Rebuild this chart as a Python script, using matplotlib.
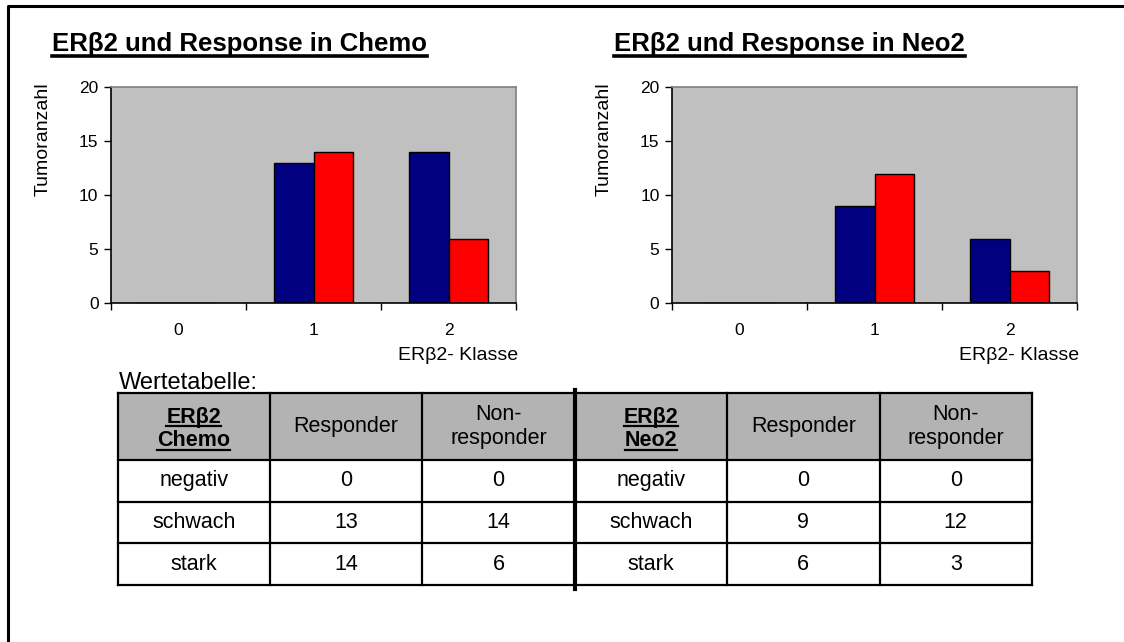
import numpy as np
import matplotlib
matplotlib.use("Agg")
import matplotlib.pyplot as plt
from matplotlib.patches import Rectangle
from matplotlib.lines import Line2D

plt.rcParams['font.family'] = ['Liberation Sans', 'DejaVu Sans']

W, H = 1124, 642

# Daten
klassen = ['0', '1', '2']
chemo_responder = [0, 13, 14]
chemo_non = [0, 14, 6]
neo2_responder = [0, 9, 6]
neo2_non = [0, 12, 3]

titel = ['ERβ2 und Response in Chemo', 'ERβ2 und Response in Neo2']
gruppen = ['Chemo', 'Neo2']
zeilen = ['negativ', 'schwach', 'stark']
kopf = ['Responder', 'Non-\nresponder']

fig = plt.figure(figsize=(W / 100, H / 100), dpi=100)

def px_rect(x0, y0, x1, y1):
    return [x0 / W, 1 - y1 / H, (x1 - x0) / W, (y1 - y0) / H]

# Ebene in Pixelkoordinaten fuer Rahmen, Titel und Tabelle
over = fig.add_axes([0, 0, 1, 1])
over.set_xlim(0, W)
over.set_ylim(H, 0)
over.axis('off')

# Rahmen (nur links und oben sichtbar)
over.add_line(Line2D([7.5, 7.5, W + 5], [H + 5, 6, 6], color='black', lw=2.2))

unterstrichen = []

def balken(rect, resp, non, t, tx):
    ax = fig.add_axes(px_rect(*rect))
    x = np.arange(len(klassen))
    bw = 0.29
    ax.bar(x - bw / 2, resp, bw, color='#000080', edgecolor='black', lw=1)
    ax.bar(x + bw / 2, non, bw, color='#ff0000', edgecolor='black', lw=1)
    ax.set_xlim(-0.5, 2.5)
    ax.set_ylim(0, 20)
    ax.set_facecolor('#c0c0c0')
    ax.set_yticks([0, 5, 10, 15, 20])
    ax.set_xticks(x)
    ax.set_xticklabels(klassen)
    ax.set_xticks([-0.5, 0.5, 1.5, 2.5], minor=True)
    ax.tick_params(axis='x', which='major', length=0, pad=14, labelsize=12.5)
    ax.tick_params(axis='x', which='minor', length=5, width=1, direction='out')
    ax.tick_params(axis='y', length=5, width=1, direction='out', pad=4, labelsize=12.5)
    for s in ['top', 'right']:
        ax.spines[s].set_color('#808080')
        ax.spines[s].set_linewidth(1.2)
    for s in ['left', 'bottom']:
        ax.spines[s].set_linewidth(1.2)
    ax.text(1.005, -(356 - 303.3) / 216, 'ERβ2- Klasse', transform=ax.transAxes,
            ha='right', va='center', fontsize=14)
    over.text(rect[0] - 68, 82, 'Tumoranzahl', rotation=90, ha='center', va='top', fontsize=14)
    tt = over.text(tx, 50.5, t, ha='left', va='baseline', fontsize=18.5, fontweight='bold')
    unterstrichen.append((tt, 5, 2.6))
    return ax

balken((111, 87.3, 516, 303.3), chemo_responder, chemo_non, titel[0], 52)
balken((672, 87.3, 1077, 303.3), neo2_responder, neo2_non, titel[1], 614)

over.text(119, 389, 'Wertetabelle:', ha='left', va='baseline', fontsize=17)

# Tabelle
xs = np.linspace(117.5, 1032, 7)
ys = [393, 460, 501.7, 543.3, 585]
spalten = [zeilen, chemo_responder, chemo_non, zeilen, neo2_responder, neo2_non]

for c in range(6):
    over.add_patch(Rectangle((xs[c], ys[0]), xs[c + 1] - xs[c], ys[1] - ys[0],
                             facecolor='#b3b3b3', edgecolor='none'))
for y in ys:
    over.add_line(Line2D([xs[0], xs[-1]], [y, y], color='black', lw=1.6))
for i, x in enumerate(xs):
    if i == 3:
        over.add_line(Line2D([x, x], [390, 589], color='black', lw=3))
    else:
        over.add_line(Line2D([x, x], [ys[0], ys[-1]], color='black', lw=1.6))

kopf_mitte = (ys[0] + ys[1]) / 2
for g in range(2):
    cx0 = (xs[3 * g] + xs[3 * g + 1]) / 2
    for k, wort in enumerate(['ERβ2', gruppen[g]]):
        tt = over.text(cx0, kopf_mitte - 4 + k * 24, wort, ha='center', va='baseline',
                       fontsize=15.5, fontweight='bold')
        unterstrichen.append((tt, 3, 1.6))
    for k, h in enumerate(kopf):
        cx = (xs[3 * g + 1 + k] + xs[3 * g + 2 + k]) / 2
        over.text(cx, kopf_mitte, h, ha='center', va='center', fontsize=15.5,
                  linespacing=1.15)

for c in range(6):
    cx = (xs[c] + xs[c + 1]) / 2
    for r, wert in enumerate(spalten[c]):
        cy = (ys[r + 1] + ys[r + 2]) / 2
        over.text(cx, cy, str(wert), ha='center', va='center', fontsize=15.5)

# Unterstreichungen aus der Textausdehnung
fig.canvas.draw()
rend = fig.canvas.get_renderer()
inv = over.transData.inverted()
for tt, off, lw in unterstrichen:
    bb = tt.get_window_extent(rend)
    (x0, _), (x1, _) = inv.transform([(bb.x0, bb.y0), (bb.x1, bb.y0)])
    yb = tt.get_position()[1] + off
    over.add_line(Line2D([x0, x1], [yb, yb], color='black', lw=lw))

fig.savefig('out.png', dpi=100)
